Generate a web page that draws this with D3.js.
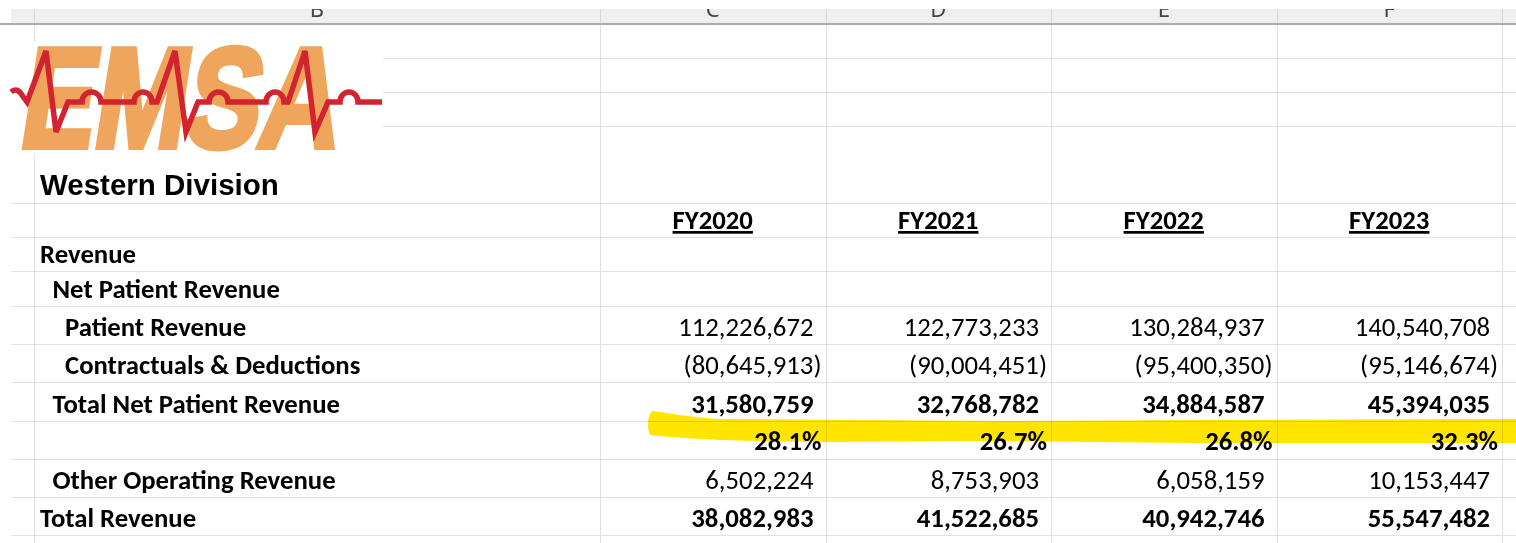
<!DOCTYPE html>
<html>
<head>
<meta charset="utf-8">
<script src="https://cdn.jsdelivr.net/npm/d3@7"></script>
<style>
  html, body { margin: 0; padding: 0; background: #fff; }
  svg { display: block; }
</style>
</head>
<body>
<script>
// Sheet data
const colLetters = ["B", "C", "D", "E", "F"];
const years = ["FY2020", "FY2021", "FY2022", "FY2023"];
const rowLabels = [
  "Revenue",
  "Net Patient Revenue",
  "Patient Revenue",
  "Contractuals & Deductions",
  "Total Net Patient Revenue",
  "",
  "Other Operating Revenue",
  "Total Revenue"
];
const rowIndent = [0, 1, 2, 2, 1, 0, 1, 0];
const patientRevenue = [112226672, 122773233, 130284937, 140540708];
const contractuals = [-80645913, -90004451, -95400350, -95146674];
const totalNetPatient = [31580759, 32768782, 34884587, 45394035];
const netPct = [28.1, 26.7, 26.8, 32.3];
const otherOperating = [6502224, 8753903, 6058159, 10153447];
const totalRevenue = [38082983, 41522685, 40942746, 55547482];

const w = 1516;
const h = 543;
const cellFont = "Carlito, Calibri, Lato, sans-serif";
const cellSize = 27;
const squeeze = 0.99;

// value rows, keyed by row index
const valueRows = [
  { row: 2, values: patientRevenue, bold: false, kind: "num" },
  { row: 3, values: contractuals, bold: false, kind: "num" },
  { row: 4, values: totalNetPatient, bold: true, kind: "num" },
  { row: 5, values: netPct, bold: true, kind: "pct" },
  { row: 6, values: otherOperating, bold: false, kind: "num" },
  { row: 7, values: totalRevenue, bold: true, kind: "num" }
];

const svg = d3.select("body").append("svg").attr("width", w).attr("height", h);

// columns
const x = d3.scaleBand().domain(years).range([600, 1502]);
const colEdges = [34, 600].concat(years.map((d) => x(d) + x.bandwidth()));
const colB = [34, 600];

// rows (bottom edges of the table body rows)
const y = d3
  .scaleOrdinal()
  .domain(d3.range(rowLabels.length))
  .range([271, 306, 344, 382, 421, 459, 497, 535]);
const hLines = [58, 92, 126, 203, 237, 271, 306, 344, 382, 421, 459, 497, 535];

// grid
svg
  .append("g")
  .selectAll("line")
  .data(hLines)
  .join("line")
  .attr("x1", 11)
  .attr("x2", w)
  .attr("y1", (d) => d + 0.5)
  .attr("y2", (d) => d + 0.5)
  .attr("stroke", "#e1e1e1");

svg
  .append("g")
  .selectAll("line")
  .data(colEdges)
  .join("line")
  .attr("x1", (d) => Math.round(d) + 0.5)
  .attr("x2", (d) => Math.round(d) + 0.5)
  .attr("y1", 24)
  .attr("y2", h)
  .attr("stroke", "#e1e1e1");

// column header strip
const head = svg.append("g");
head.append("rect").attr("x", 11).attr("y", 9).attr("width", w - 11).attr("height", 15).attr("fill", "#efefef");
head
  .selectAll("line.sep")
  .data(colEdges)
  .join("line")
  .attr("class", "sep")
  .attr("x1", (d) => Math.round(d) + 0.5)
  .attr("x2", (d) => Math.round(d) + 0.5)
  .attr("y1", 9)
  .attr("y2", 24)
  .attr("stroke", "#d6d6d6");
head.append("line").attr("x1", 0).attr("x2", w).attr("y1", 24).attr("y2", 24).attr("stroke", "#ababab").attr("stroke-width", 2);
svg.append("clipPath").attr("id", "hclip").append("rect").attr("x", 0).attr("y", 9).attr("width", w).attr("height", 14);
const letterX = [(colB[0] + colB[1]) / 2].concat(years.map((d) => x(d) + x.bandwidth() / 2));
head
  .append("g")
  .attr("clip-path", "url(#hclip)")
  .selectAll("text")
  .data(colLetters)
  .join("text")
  .attr("x", (d, i) => letterX[i])
  .attr("y", 16.5)
  .attr("text-anchor", "middle")
  .attr("font-family", "Segoe UI, Noto Sans, sans-serif")
  .attr("font-size", 22)
  .attr("fill", "#444")
  .text((d) => d);

// logo (picture sits on top of the grid)
const logo = svg.append("g");
logo.append("rect").attr("x", 11).attr("y", 42).attr("width", 372).attr("height", 112).attr("fill", "#fff");
logo
  .append("text")
  .attr("transform", "translate(17,147) skewX(-9)")
  .attr("font-family", "Liberation Sans, Arial, sans-serif")
  .attr("font-weight", 700)
  .attr("font-size", 142)
  .attr("textLength", 318)
  .attr("lengthAdjust", "spacingAndGlyphs")
  .attr("fill", "#efa65c")
  .attr("stroke", "#efa65c")
  .attr("stroke-width", 6)
  .attr("stroke-linejoin", "miter")
  .text("EMSA");
logo
  .append("path")
  .attr(
    "d",
    "M11,92 Q17,87 22,95 L27,102 L46,51 L56,132 L68,102 L82,102 A9.5,10 0 0 1 101,102 L134,102 A9,10 0 0 1 152,102 L157,102 L175,51 L186,132 L198,102 L209,102 A9.5,10 0 0 1 228,102 L266,102 A9,10 0 0 1 284,102 L288,102 L305,51 L315,132 L328,102 L340,102 A9,10 0 0 1 358,102 L382,102"
  )
  .attr("fill", "none")
  .attr("stroke", "#d42330")
  .attr("stroke-width", 5.5)
  .attr("stroke-linejoin", "miter");

// yellow marker stroke over the margin row
svg
  .append("path")
  .attr(
    "d",
    "M652,411 C672,413 692,418 722,419 L1000,421 L1200,420 L1516,419 L1516,443 L1200,443 L1000,441 L820,442 C745,441 692,440 650,435 C647,427 647,418 652,411 Z"
  )
  .attr("fill", "#ffe500")
  .style("mix-blend-mode", "multiply");

// title
svg
  .append("text")
  .attr("x", 40)
  .attr("y", 195)
  .attr("font-family", "Liberation Sans, Arial, sans-serif")
  .attr("font-weight", 700)
  .attr("font-size", 29.5)
  .attr("fill", "#000")
  .text("Western Division");

function squeezeText(sel) {
  sel.each(function () {
    const len = this.getComputedTextLength();
    if (len > 0) d3.select(this).attr("textLength", len * squeeze).attr("lengthAdjust", "spacingAndGlyphs");
  });
}

// year headers
svg
  .append("g")
  .selectAll("text")
  .data(years)
  .join("text")
  .attr("x", (d) => x(d) + x.bandwidth() / 2)
  .attr("y", 229)
  .attr("text-anchor", "middle")
  .attr("font-family", cellFont)
  .attr("font-weight", 700)
  .attr("font-size", cellSize)
  .style("text-decoration", "underline")
  .text((d) => d)
  .call(squeezeText);

// row labels
svg
  .append("g")
  .selectAll("text")
  .data(rowLabels)
  .join("text")
  .attr("x", (d, i) => 40 + rowIndent[i] * 12.5)
  .attr("y", (d, i) => y(i) - 8)
  .attr("font-family", cellFont)
  .attr("font-weight", 700)
  .attr("font-size", cellSize)
  .text((d) => d)
  .call(squeezeText);

// values
const fmt = d3.format(",");
const cells = valueRows.flatMap((r) =>
  r.values.map((v, j) => ({ row: r.row, year: years[j], v, bold: r.bold, kind: r.kind }))
);
svg
  .append("g")
  .selectAll("text")
  .data(cells)
  .join("text")
  .attr("x", (d) => {
    const right = x(d.year) + x.bandwidth();
    return d.kind === "pct" || d.v < 0 ? right - 4 : right - 12;
  })
  .attr("y", (d) => y(d.row) - (d.kind === "pct" ? 9 : 8))
  .attr("text-anchor", "end")
  .attr("font-family", cellFont)
  .attr("font-weight", (d) => (d.bold ? 700 : 400))
  .attr("font-size", cellSize)
  .attr("fill", "#000")
  .text((d) => {
    if (d.kind === "pct") return d.v.toFixed(1) + "%";
    return d.v < 0 ? "(" + fmt(-d.v) + ")" : fmt(d.v);
  })
  .call(squeezeText);
</script>
</body>
</html>
